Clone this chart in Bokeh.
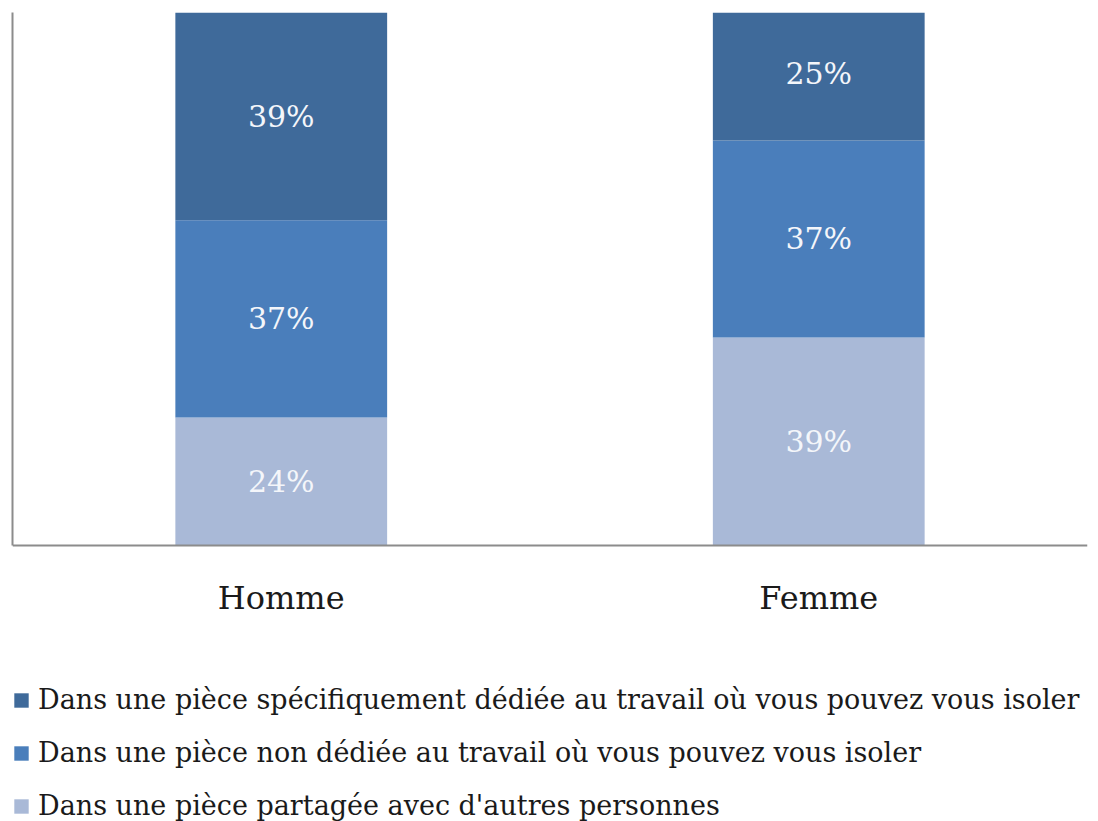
from bokeh.plotting import figure
from bokeh.models import Legend, LegendItem, FixedTicker, ColumnDataSource, LabelSet, Span
from bokeh.core.properties import value
from bokeh.embed import file_html
from bokeh.resources import INLINE

categories = ["Homme", "Femme"]
series = [
    "Dans une pièce partagée avec d'autres personnes",
    "Dans une pièce non dédiée au travail où vous pouvez vous isoler",
    "Dans une pièce spécifiquement dédiée au travail où vous pouvez vous isoler",
]
partagee = [24, 39]
non_dediee = [37, 37]
dediee = [39, 25]
colors = ["#A9B9D7", "#4A7EBB", "#3F6A9A"]

keys = ["partagee", "non_dediee", "dediee"]
data = dict(cat=categories, partagee=partagee, non_dediee=non_dediee, dediee=dediee)
src = ColumnDataSource(data)

FONT = "DejaVu Serif"

# plot area: bars occupy 0..100 in the upper 533 px; the lower part hosts labels and legend
p = figure(x_range=categories, y_range=(-51.8, 100), frame_width=1075, frame_height=809,
           output_backend="svg", toolbar_location=None,
           min_border_left=12, min_border_right=11, min_border_top=12, min_border_bottom=0)
p.outline_line_color = None
p.grid.grid_line_color = None
p.background_fill_color = "white"

renderers = p.vbar_stack(keys, x="cat", width=0.394, color=colors, source=src, line_color=None)

# value labels inside segments
lab_x, lab_y, lab_t = [], [], []
for i, c in enumerate(categories):
    base = 0
    for k in keys:
        v = data[k][i]
        lab_x.append(c)
        lab_y.append(base + v / 2)
        lab_t.append(f"{v}%")
        base += v
lsrc = ColumnDataSource(dict(x=lab_x, y=lab_y, t=lab_t))
p.add_layout(LabelSet(x="x", y="y", text="t", source=lsrc, text_align="center", text_baseline="middle",
                      text_color="#F4F6FA", text_font=value(FONT), text_font_size=value("30px")))

# category labels under the baseline
csrc = ColumnDataSource(dict(x=categories, y=[0] * len(categories), t=categories))
p.add_layout(LabelSet(x="x", y="y", text="t", source=csrc, text_align="center", text_baseline="middle",
                      y_offset=-53, text_color="#1A1A1A", text_font=value(FONT),
                      text_font_size=value("32px")))

# axes
p.xaxis.visible = False
p.add_layout(Span(location=0, dimension="width", line_color="#8C8C8C", line_width=2))

p.yaxis.bounds = (0, 100)
p.yaxis.ticker = FixedTicker(ticks=[])
p.yaxis.major_label_text_font_size = "0px"
p.yaxis.major_tick_in = 0
p.yaxis.major_tick_out = 0
p.yaxis.minor_tick_line_color = None
p.yaxis.major_label_standoff = 0
p.yaxis.axis_line_color = "#8C8C8C"
p.yaxis.axis_line_width = 2

items = [LegendItem(label=series[i], renderers=[renderers[i]]) for i in [2, 1, 0]]
legend = Legend(items=items, location=(0, 0), orientation="vertical",
                border_line_color=None, background_fill_alpha=0,
                label_text_font=FONT, label_text_font_size="27px", label_text_color="#1A1A1A",
                glyph_width=18, glyph_height=18, spacing=22, padding=0, margin=0,
                label_standoff=8)
p.add_layout(legend, "center")

open("out.html", "w").write(file_html(p, INLINE))
